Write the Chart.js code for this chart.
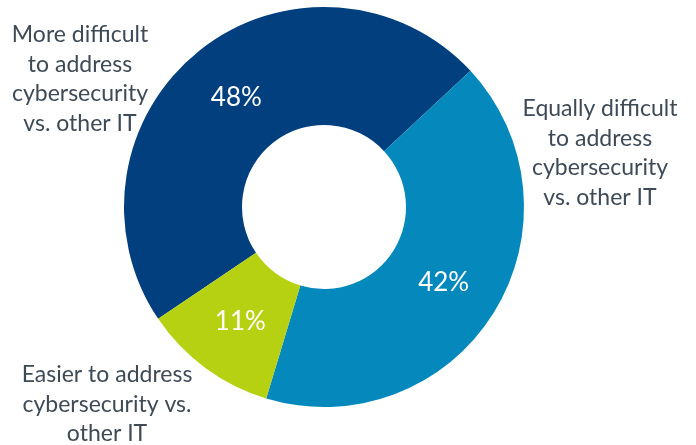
<!DOCTYPE html>
<html>
<head>
<meta charset="utf-8">
<script src="https://cdn.jsdelivr.net/npm/chart.js@4"></script>
<style>
  html, body { margin: 0; padding: 0; background: #fff; }
  canvas { display: block; }
</style>
</head>
<body>
<canvas id="donut" width="696" height="445"></canvas>
<script>
// data
const categories = [
    "More difficult to address cybersecurity vs. other IT",
    "Equally difficult to address cybersecurity vs. other IT",
    "Easier to address cybersecurity vs. other IT"
];
const shares = [48, 42, 11];
const sliceColors = ['#023F7E', '#0589BC', '#B6D112'];

// outer labels, already wrapped the way the picture has them
const labelLines = [
    ["More difficult", "to address", "cybersecurity", "vs. other IT"],
    ["Equally difficult", "to address", "cybersecurity", "vs. other IT"],
    ["Easier to address", "cybersecurity vs.", "other IT"]
];
// x centre and first baseline for each outer label block
const labelAnchors = [[80, 42], [600, 116], [107, 382]];
const lineStep = 29.5;

const textColor = '#3E4A56';

const labelPlugin = {
    id: 'sliceLabels',
    afterDatasetsDraw(chart) {
        const ctx = chart.ctx;
        const arcs = chart.getDatasetMeta(0).data;
        ctx.save();

        // percentages inside the ring
        ctx.fillStyle = '#fff';
        ctx.font = '26px Lato';
        ctx.textAlign = 'center';
        ctx.textBaseline = 'middle';
        arcs.forEach((arc, i) => {
            const p = arc.tooltipPosition();
            ctx.fillText(shares[i] + '%', p.x, p.y + 1);
        });

        // category text outside the ring
        ctx.fillStyle = textColor;
        ctx.font = '23px Lato';
        ctx.textBaseline = 'alphabetic';
        labelLines.forEach((lines, i) => {
            const [x, y] = labelAnchors[i];
            lines.forEach((line, j) => {
                ctx.fillText(line, x, y + j * lineStep);
            });
        });
        ctx.restore();
    }
};

new Chart(document.getElementById('donut'), {
    type: 'doughnut',
    data: {
        labels: categories,
        datasets: [{
            data: shares,
            backgroundColor: sliceColors,
            borderWidth: 0
        }]
    },
    options: {
        responsive: false,
        animation: false,
        rotation: 236,
        cutout: '41%',
        layout: { padding: { top: 7, bottom: 38, left: 124, right: 172 } },
        plugins: {
            legend: { display: false },
            tooltip: { enabled: false }
        }
    },
    plugins: [labelPlugin]
});
</script>
</body>
</html>
